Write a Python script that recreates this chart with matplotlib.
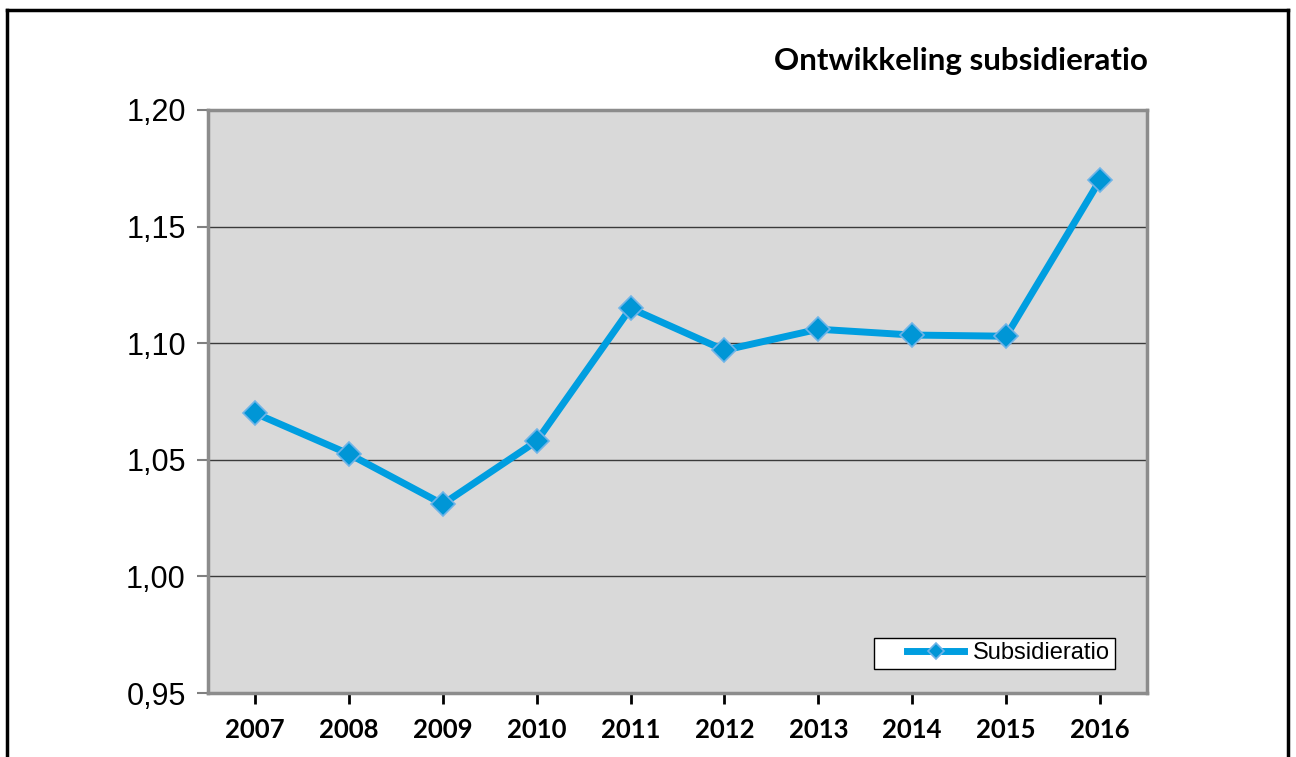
import matplotlib.pyplot as plt
from matplotlib.lines import Line2D
from matplotlib.legend_handler import HandlerLine2D
from matplotlib.ticker import FuncFormatter

years = ['2007', '2008', '2009', '2010', '2011', '2012', '2013', '2014', '2015', '2016']
ratio = [1.070, 1.0525, 1.031, 1.058, 1.115, 1.097, 1.106, 1.1035, 1.103, 1.170]

fig = plt.figure(figsize=(12.96, 7.57), dpi=100)
ax = fig.add_axes([0.1605, 0.0845, 0.7245, 0.7702])
ax.set_facecolor('#d9d9d9')

x = list(range(len(years)))
line, = ax.plot(x, ratio, color='#009ee0', lw=5, marker='D', ms=12,
                mfc='#0096d6', mec='#6fb4e8', mew=1.2, label='Subsidieratio', zorder=3)

ax.set_xlim(-0.5, len(years) - 0.5)
ax.set_ylim(0.95, 1.20)
ax.set_yticks([0.95, 1.00, 1.05, 1.10, 1.15, 1.20])
ax.yaxis.set_major_formatter(FuncFormatter(lambda v, p: f'{v:.2f}'.replace('.', ',')))
ax.grid(axis='y', color='#3a3a3a', lw=1)
ax.set_axisbelow(True)

ax.set_xticks(x)
ax.set_xticklabels(years, fontfamily='Lato', fontweight='bold', fontsize=18.5)
for lab in ax.get_yticklabels():
    lab.set_fontfamily('Liberation Sans')
    lab.set_fontsize(22)
ax.tick_params(axis='y', length=8, width=1.5, color='#808080', pad=8)
ax.tick_params(axis='x', length=8, width=2, color='black', pad=10)

for s in ax.spines.values():
    s.set_color('#8c8c8c')
    s.set_linewidth(2.5)

# legend: leave white space before the key line, like the original
leg = ax.legend(loc='lower right', bbox_to_anchor=(0.966, 0.041), frameon=True,
                fancybox=False, framealpha=1,
                prop={'family': 'Liberation Sans', 'size': 17},
                handlelength=3.6, borderpad=0.2, handletextpad=0.4,
                borderaxespad=0, handler_map={line: HandlerLine2D(xpad=1.2)})
leg.get_frame().set_edgecolor('black')
leg.get_frame().set_linewidth(1)
leg.get_frame().set_facecolor('white')
for h in leg.legend_handles:
    h.set_markersize(8)

fig.text(0.886, 0.92, 'Ontwikkeling subsidieratio', ha='right', va='center',
         fontfamily='Lato', fontweight='bold', fontsize=22.5)

# outer border of the chart box
fig.add_artist(Line2D([0.0054, 0.0054], [0.0, 0.9868], color='black', lw=2.5))
fig.add_artist(Line2D([0.0054, 0.9938], [0.9868, 0.9868], color='black', lw=2.5))
fig.add_artist(Line2D([0.9938, 0.9938], [0.0, 0.9868], color='black', lw=2.5))

fig.savefig('out.png', dpi=100)
